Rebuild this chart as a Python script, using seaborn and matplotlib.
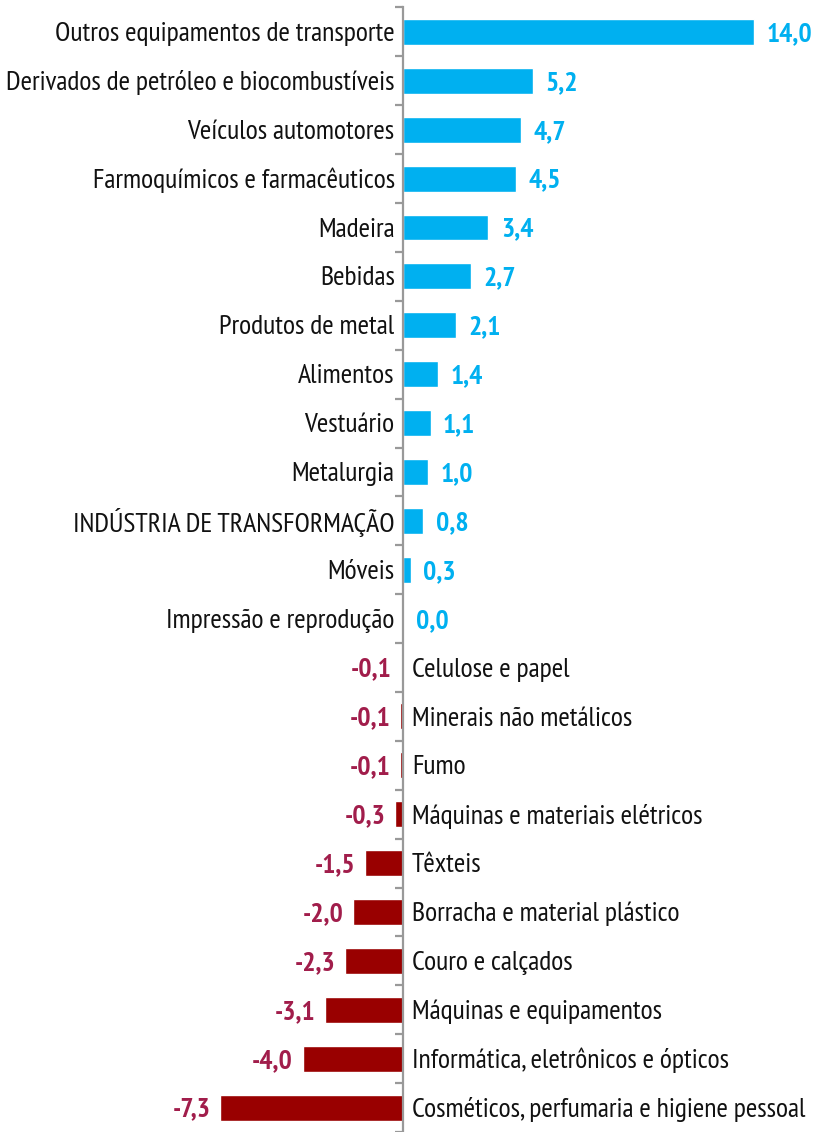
import numpy as np
import pandas as pd
import matplotlib
matplotlib.use("Agg")
import matplotlib.pyplot as plt
from matplotlib import font_manager
import seaborn as sns

sns.set_style("white")
installed = {f.name for f in font_manager.fontManager.ttflist}
candidates = ["PT Sans Narrow", "Liberation Sans Narrow", "Roboto Condensed", "Roboto"]
main_font = next(c for c in candidates if c in installed)
plt.rcParams["font.family"] = [main_font, "DejaVu Sans"]

# ========== Data ==========
sectors = [
    "Outros equipamentos de transporte",
    "Derivados de petróleo e biocombustíveis",
    "Veículos automotores",
    "Farmoquímicos e farmacêuticos",
    "Madeira",
    "Bebidas",
    "Produtos de metal",
    "Alimentos",
    "Vestuário",
    "Metalurgia",
    "INDÚSTRIA DE TRANSFORMAÇÃO",
    "Móveis",
    "Impressão e reprodução",
    "Celulose e papel",
    "Minerais não metálicos",
    "Fumo",
    "Máquinas e materiais elétricos",
    "Têxteis",
    "Borracha e material plástico",
    "Couro e calçados",
    "Máquinas e equipamentos",
    "Informática, eletrônicos e ópticos",
    "Cosméticos, perfumaria e higiene pessoal",
]
values = [14.0, 5.2, 4.7, 4.5, 3.4, 2.7, 2.1, 1.4, 1.1, 1.0, 0.8, 0.3, 0.0,
          -0.07, -0.1, -0.13, -0.3, -1.5, -2.0, -2.3, -3.1, -4.0, -7.3]

# ========== Style ==========
pos_color = "#00B0F0"
neg_color = "#990000"
neg_text = "#A11D4B"
axis_gray = "#999999"

df = pd.DataFrame({"sector": sectors, "value": values})
df["sign"] = np.where(df["value"] >= 0, "pos", "neg")

fig = plt.figure(figsize=(8.16, 11.32), dpi=100)
ax = fig.add_axes([0, 0, 1, (1132 - 7.5) / 1132])

sns.barplot(data=df, x="value", y="sector", hue="sign",
            palette={"pos": pos_color, "neg": neg_color}, saturation=1,
            dodge=False, width=0.53, legend=False, ax=ax, orient="h")

ax.set_xlim(-403 / 25.07, (816 - 403) / 25.07)
ax.set_ylim(len(sectors) - 0.5, -0.5)

# axis line at zero with ticks between categories
for s in ["top", "right", "bottom"]:
    ax.spines[s].set_visible(False)
ax.spines["left"].set_position(("data", 0))
ax.spines["left"].set_color(axis_gray)
ax.spines["left"].set_linewidth(1.6)
ax.set_yticks(np.arange(-0.5, len(sectors) - 0.4, 1))
ax.set_yticklabels([])
ax.tick_params(axis="y", left=True, direction="out", length=6, width=1.6, color=axis_gray)
ax.set_xticks([])
ax.set_xlabel("")
ax.set_ylabel("")

# ----- Labels -----
fs = 20
dy = -1.5  # nudge text down a little to sit on the bar centre
for i, (name, v) in enumerate(zip(sectors, values)):
    lab = f"{v:.1f}".replace(".", ",")
    if v >= 0:
        ax.annotate(name, (0, i), xytext=(-6, dy), textcoords="offset points",
                    ha="right", va="center", fontsize=fs, color="#111111")
        ax.annotate(lab, (v, i), xytext=(9, dy), textcoords="offset points",
                    ha="left", va="center", fontsize=fs, fontweight="bold", color=pos_color)
    else:
        ax.annotate(name, (0, i), xytext=(6.5, dy), textcoords="offset points",
                    ha="left", va="center", fontsize=fs, color="#111111")
        ax.annotate(lab, (v, i), xytext=(-7, dy), textcoords="offset points",
                    ha="right", va="center", fontsize=fs, fontweight="bold", color=neg_text)

fig.savefig("out.png", dpi=100)
plt.close(fig)
